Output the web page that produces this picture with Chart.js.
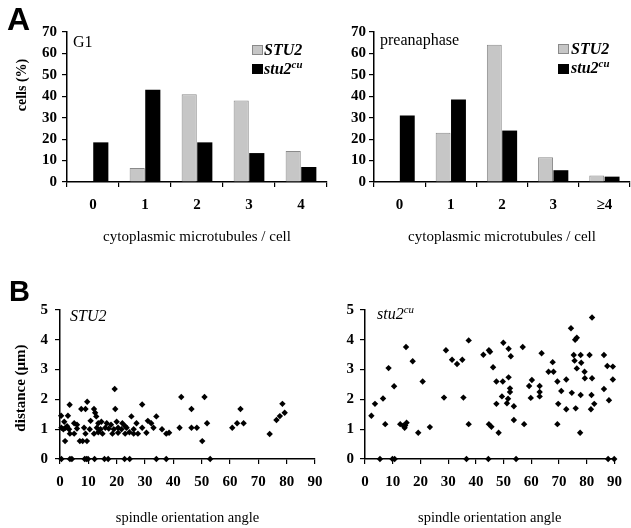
<!DOCTYPE html>
<html><head><meta charset="utf-8">
<script src="https://cdn.jsdelivr.net/npm/chart.js@4.4.0/dist/chart.umd.min.js"></script>
<style>
html,body{margin:0;padding:0;background:#fff;}
#wrap{position:relative;width:631px;height:528px;overflow:hidden;font-family:"Liberation Serif","Times New Roman",serif;color:#000;background:#fff;}
canvas{position:absolute;}
.t{position:absolute;white-space:nowrap;line-height:1;}
.big{font-family:"Liberation Sans",Arial,sans-serif;font-weight:bold;}
.leg{font-weight:bold;font-style:italic;font-size:16px;}
.lab{font-style:italic;font-size:16px;}
sup{font-size:0.68em;vertical-align:0.55em;line-height:0;}
.box{position:absolute;width:11px;height:10px;box-sizing:border-box;}
.ytitle{position:absolute;white-space:nowrap;line-height:1;font-weight:bold;transform:translate(-50%,-50%) rotate(-90deg);}
</style></head><body>
<div id="wrap">
<canvas id="cG1" width="332" height="250" style="left:0;top:0"></canvas>
<canvas id="cPre" width="316" height="250" style="left:315px;top:0"></canvas>
<canvas id="cS1" width="332" height="273" style="left:0;top:255px"></canvas>
<canvas id="cS2" width="316" height="273" style="left:315px;top:255px"></canvas>

<div class="t big" style="left:7px;top:3px;font-size:32px;">A</div>
<div class="t big" style="left:9px;top:277px;font-size:29px;">B</div>

<div class="ytitle" style="left:22px;top:85px;font-size:14px;">cells (%)</div>
<div class="ytitle" style="left:20px;top:388px;font-size:15px;">distance (μm)</div>

<div class="t" style="left:73px;top:34px;font-size:16px;">G1</div>
<div class="t" style="left:380px;top:32px;font-size:16px;">preanaphase</div>

<div class="box" style="left:252px;top:45px;background:#c6c6c6;border:1px solid #8a8a8a;"></div>
<div class="t leg" style="left:264px;top:42px;">STU2</div>
<div class="box" style="left:252px;top:64px;background:#000;"></div>
<div class="t leg" style="left:264px;top:61px;">stu2<sup>cu</sup></div>

<div class="box" style="left:558px;top:44px;background:#c6c6c6;border:1px solid #8a8a8a;"></div>
<div class="t leg" style="left:571px;top:41px;">STU2</div>
<div class="box" style="left:558px;top:64px;background:#000;"></div>
<div class="t leg" style="left:571px;top:60px;">stu2<sup>cu</sup></div>

<div class="t lab" style="left:70px;top:308px;">STU2</div>
<div class="t lab" style="left:377px;top:306px;">stu2<sup>cu</sup></div>
</div>

<script>
// ---------- data ----------
const g1Categories = ['0', '1', '2', '3', '4'];
const preCategories = ['0', '1', '2', '3', '≥4'];
const g1STU2 = [0, 6.5, 41, 38, 14.5];
const g1Stu2cu = [18.5, 43, 18.5, 13.5, 7];
const preSTU2 = [0, 23, 64, 11.5, 3];
const preStu2cu = [31, 38.5, 24, 5.5, 2.5];
const cellsMax = 70;
const cellsStep = 10;
const angleMax = 90;
const angleStep = 10;
const distanceMax = 5;
const distanceStep = 1;
const barXTitle = 'cytoplasmic microtubules / cell';
const scatterXTitle = 'spindle orientation angle';

// [spindle orientation angle, distance (µm)]
const stu2Points = [
  [0.5,0],[3.5,0],[4.2,0],[8.7,0],[9.3,0],[9.9,0],[12.2,0],[15.7,0],[17,0],[22.8,0],[24.6,0],[34,0],[37.5,0],[53,0],
  [19.3,2.35],[42.8,2.08],[51,2.08],[3.4,1.82],[9.6,1.92],[29,1.83],[46.4,1.68],[63.7,1.68],[78.5,1.85],
  [7.5,1.68],[9,1.68],[12,1.68],[19.5,1.68],
  [0.4,1.45],[2.8,1.45],[12.4,1.55],[12.8,1.43],[25.2,1.43],[34,1.43],[79.3,1.55],[77.6,1.44],[76.4,1.31],
  [1.5,1.25],[5,1.2],[10.8,1.28],[13.5,1.2],[14.6,1.25],[16.5,1.2],[20,1.25],[22,1.2],[27,1.2],[31,1.28],
  [32.2,1.2],[51.9,1.2],[62.5,1.2],[64.8,1.2],[2.5,1.1],[6,1.15],[18,1.15],[23,1.1],
  [0.5,1.05],[1.2,1.0],[2,1.05],[3.2,1.0],[6,1.02],[8.5,1.05],[10.5,1.0],[13,1.05],[14.3,1.0],[16,1.05],
  [17.2,1.02],[19,1.0],[20.5,1.05],[21.7,1.0],[23.5,1.05],[26,1.0],[29,1.05],[33,1.05],[36,1.0],[42.2,1.05],
  [46.4,1.05],[48.3,1.05],[60.8,1.05],
  [3.5,0.85],[5,0.85],[9,0.85],[12,0.85],[13.5,0.9],[15,0.85],[18.5,0.85],[20.5,0.88],[23,0.85],[24.5,0.9],
  [26,0.85],[27.5,0.85],[30.5,0.88],[37.5,0.85],[38.5,0.88],[74,0.84],
  [1.8,0.6],[7,0.6],[8,0.6],[9.5,0.6],[50.2,0.6]
];
const stu2cuPoints = [
  [5.4,0],[9.9,0],[10.7,0],[36.6,0],[44.5,0],[54.5,0],[87.7,0],[89.9,0],
  [2.3,1.45],[3.6,1.85],[6.5,2.03],[7.3,1.17],[8.5,3.05],[10.5,2.44],[12.7,1.17],[13.8,1.12],[14.3,1.05],
  [14.5,1.12],[15,1.22],[14.8,3.76],[17.2,3.28],[19.2,0.88],[20.8,2.6],[23.4,1.07],[28.5,2.06],[29.2,3.65],
  [31.4,3.33],[33.2,3.19],[35.1,3.33],[35.5,2.06],[37.4,3.98],[37.4,1.17],[42.7,3.5],[44.7,3.65],[45.1,3.6],
  [44.7,1.17],[45.6,1.08],[46.2,3.08],[47.4,2.6],[47.4,1.85],[48.2,0.88],[49.4,2.1],[49.7,2.6],[49.9,3.9],
  [51.2,1.87],[51.6,2.02],[51.8,3.7],[51.8,2.74],[52.3,2.37],[52.3,2.25],[52.6,3.45],[53.7,1.77],[53.7,1.31],
  [56.9,3.76],[57.4,1.17],[59.2,2.45],[60.2,2.65],[59.8,2.05],[63,2.45],[63,2.25],[63,2.1],[63.7,3.55],
  [66.2,2.93],[68,2.93],[67.7,3.25],[69.4,2.6],[69.4,1.17],[69.7,1.85],[70.8,2.28],[72.6,2.67],[72.6,1.67],
  [74.3,4.39],[74.6,2.22],[75.8,4.0],[76.4,4.07],[75.3,3.49],[75.6,3.3],[76,1.7],[76.4,3.04],[77.6,0.88],
  [77.8,3.49],[78,3.23],[77.8,2.15],[79.2,2.93],[79.3,2.71],[81,3.49],[81.9,4.75],[81.9,2.71],[81.7,2.15],
  [81.5,1.67],[82.7,1.85],[86.2,3.49],[86.2,2.35],[87.4,3.12],[88,1.97],[89.4,3.1],[89.4,2.67]
];

// ---------- styling ----------
const SERIF = '"Liberation Serif","Times New Roman",serif';
const tickFont = {family: SERIF, size: 15, weight: 'bold'};
const titleFont = {family: SERIF, size: 15, weight: 'normal'};
const GRAY = '#c6c6c6', GRAY_EDGE = '#8a8a8a';

function baseOpts(padTop, padRight) {
  return {
    responsive: false, animation: false, devicePixelRatio: 1,
    layout: {padding: {top: padTop, right: padRight, bottom: 0, left: 0}},
    plugins: {legend: {display: false}, tooltip: {enabled: false}}
  };
}

function barChart(id, labels, s1, s2, yWidth, padRight, yPad) {
  const o = baseOpts(32, padRight);
  o.scales = {
    x: {
      offset: true,
      grid: {offset: true, drawOnChartArea: false, drawTicks: true, tickLength: 5, color: '#000', lineWidth: 1.2},
      border: {display: true, color: '#000', width: 1.5},
      ticks: {font: tickFont, color: '#000', padding: 9, maxRotation: 0},
      title: {display: true, text: barXTitle, font: titleFont, color: '#000', padding: {top: 0, bottom: 4}},
      afterFit: s => { s.height = 68; }
    },
    y: {
      min: 0, max: cellsMax,
      grid: {drawOnChartArea: false, drawTicks: true, tickLength: 5, color: '#000', lineWidth: 1.2},
      border: {display: true, color: '#000', width: 1.5},
      ticks: {stepSize: cellsStep, font: tickFont, color: '#000', padding: yPad},
      afterFit: s => { s.width = yWidth; }
    }
  };
  new Chart(document.getElementById(id), {
    type: 'bar',
    data: {
      labels: labels,
      datasets: [
        {label: 'STU2', data: s1, backgroundColor: GRAY, borderColor: GRAY_EDGE,
         borderWidth: c => (c.raw ? 1 : 0), borderSkipped: 'bottom', categoryPercentage: 0.6, barPercentage: 0.97},
        {label: 'stu2cu', data: s2, backgroundColor: '#000', borderColor: '#000', borderWidth: 0,
         categoryPercentage: 0.6, barPercentage: 0.97}
      ]
    },
    options: o
  });
}

function scatterChart(id, pts, yWidth, padRight, yPad) {
  const o = baseOpts(55, padRight);
  o.scales = {
    x: {
      type: 'linear', min: 0, max: angleMax,
      grid: {drawOnChartArea: false, drawTicks: true, tickLength: 5, color: '#000', lineWidth: 1.2},
      border: {display: true, color: '#000', width: 1.5},
      ticks: {stepSize: angleStep, font: tickFont, color: '#000', padding: 9, maxRotation: 0},
      title: {display: true, text: scatterXTitle, font: {family: SERIF, size: 14.5}, color: '#000', padding: {top: 0, bottom: 1}},
      afterFit: s => { s.height = 69; }
    },
    y: {
      type: 'linear', min: 0, max: distanceMax,
      grid: {drawOnChartArea: false, drawTicks: true, tickLength: 5, color: '#000', lineWidth: 1.2},
      border: {display: true, color: '#000', width: 1.5},
      ticks: {stepSize: distanceStep, font: tickFont, color: '#000', padding: yPad},
      afterFit: s => { s.width = yWidth; }
    }
  };
  new Chart(document.getElementById(id), {
    type: 'scatter',
    data: {
      datasets: [{
        data: pts.map(p => ({x: p[0], y: p[1]})),
        pointStyle: 'rectRot', pointRadius: 3.2, backgroundColor: '#000', borderColor: '#000', borderWidth: 0,
        clip: false
      }]
    },
    options: o
  });
}

barChart('cG1', g1Categories, g1STU2, g1Stu2cu, 67, 5, 5);
barChart('cPre', preCategories, preSTU2, preStu2cu, 59, 1, 3);
scatterChart('cS1', stu2Points, 60, 17, 7);
scatterChart('cS2', stu2cuPoints, 50, 8, 6);
</script>
</body></html>
